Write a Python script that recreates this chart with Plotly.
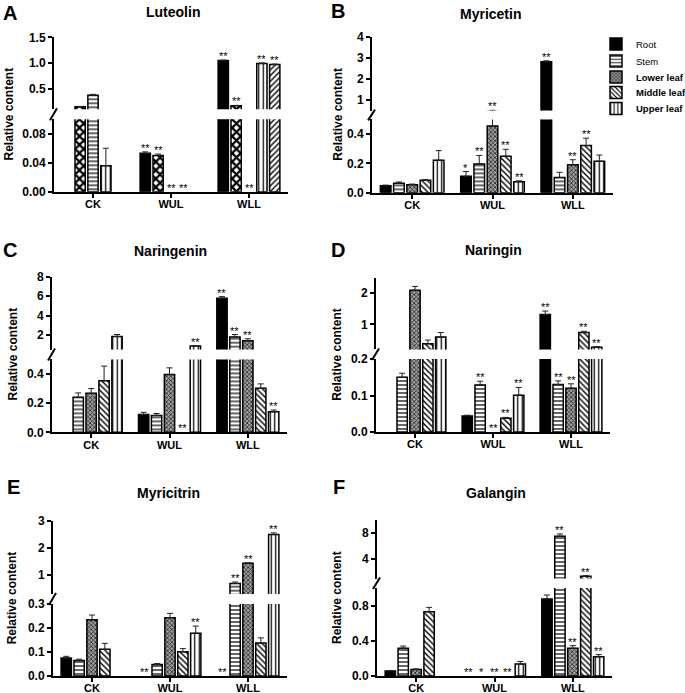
import plotly.graph_objects as go

W, H = 685, 693

categories = ["CK", "WUL", "WLL"]
legend_names = ["Root", "Stem", "<b>Lower leaf</b>", "<b>Middle leaf</b>", "<b>Upper leaf</b>"]

# ---------------- data (rows = CK, WUL, WLL ; columns = bars as drawn) ----------------
# A  Luteolin  (bars drawn: black, coarse check, horizontal, vertical, diagonal)
luteolin_mean = [[0, 0.15, 0.375, 0.036, 0],
                 [0.053, 0.050, 0, 0, 0],
                 [1.05, 0.17, 0, 0.99, 0.97]]
luteolin_err = [[0, 0.006, 0.015, 0.024, 0],
                [0.002, 0.002, 0, 0, 0],
                [0.006, 0.006, 0, 0.012, 0.01]]
luteolin_sig = [["", "", "", "", ""],
                ["**", "**", "**", "**", ""],
                ["**", "**", "**", "**", "**"]]

# B  Myricetin (Root, Stem, Lower leaf, Middle leaf, Upper leaf)
myricetin_mean = [[0.048, 0.065, 0.055, 0.085, 0.222],
                  [0.112, 0.196, 0.455, 0.248, 0.075],
                  [2.81, 0.104, 0.19, 0.322, 0.215]]
myricetin_err = [[0.004, 0.008, 0.004, 0.004, 0.065],
                 [0.032, 0.058, 0.055, 0.048, 0.006],
                 [0.05, 0.035, 0.035, 0.05, 0.042]]
myricetin_sig = [["", "", "", "", ""],
                 ["*", "**", "**", "**", "**"],
                 ["**", "", "**", "**", ""]]

# C  Naringenin
naringenin_mean = [[0, 0.24, 0.267, 0.354, 1.85],
                   [0.122, 0.116, 0.397, 0, 0.87],
                   [5.78, 1.8, 1.4, 0.302, 0.141]]
naringenin_err = [[0, 0.03, 0.033, 0.1, 0.2],
                  [0.015, 0.013, 0.045, 0, 0.05],
                  [0.17, 0.25, 0.22, 0.03, 0.012]]
naringenin_sig = [["", "", "", "", ""],
                  ["", "", "", "**", "**"],
                  ["**", "**", "**", "", "**"]]

# D  Naringin
naringin_mean = [[0, 0.15, 2.1, 0.38, 0.6],
                 [0.044, 0.129, 0, 0.038, 0.101],
                 [1.32, 0.13, 0.12, 0.74, 0.27]]
naringin_err = [[0, 0.011, 0.12, 0.12, 0.14],
                [0.002, 0.01, 0, 0.002, 0.021],
                [0.11, 0.01, 0.012, 0.04, 0.02]]
naringin_sig = [["", "", "", "", ""],
                ["", "**", "**", "**", "**"],
                ["**", "**", "**", "**", "**"]]

# E  Myricitrin
myricitrin_mean = [[0.075, 0.065, 0.234, 0.111, 0],
                   [0, 0.048, 0.243, 0.101, 0.178],
                   [0, 0.69, 1.43, 0.137, 2.49]]
myricitrin_err = [[0.007, 0.005, 0.02, 0.025, 0],
                  [0, 0.004, 0.018, 0.013, 0.03],
                  [0, 0.05, 0.02, 0.022, 0.06]]
myricitrin_sig = [["", "", "", "", ""],
                  ["**", "", "", "", "**"],
                  ["**", "**", "**", "", "**"]]

# F  Galangin
galangin_mean = [[0.057, 0.315, 0.075, 0.73, 0],
                 [0, 0, 0, 0, 0.135],
                 [0.875, 7.5, 0.315, 1.33, 0.218]]
galangin_err = [[0.005, 0.025, 0.006, 0.05, 0],
                [0, 0, 0, 0, 0.03],
                [0.045, 0.35, 0.03, 0.1, 0.025]]
galangin_sig = [["", "", "", "", ""],
                ["**", "*", "**", "**", ""],
                ["", "**", "**", "**", "**"]]

# tick labels
A_up_ticks, A_lo_ticks = [0.5, 1.0, 1.5], [0, 0.04, 0.08]
A_up_text, A_lo_text = ["0.5", "1.0", "1.5"], ["0.00", "0.04", "0.08"]
B_up_ticks, B_lo_ticks = [1, 2, 3, 4], [0, 0.2, 0.4]
B_up_text, B_lo_text = ["1", "2", "3", "4"], ["0.0", "0.2", "0.4"]
C_up_ticks, C_lo_ticks = [2, 4, 6, 8], [0, 0.2, 0.4]
C_up_text, C_lo_text = ["2", "4", "6", "8"], ["0.0", "0.2", "0.4"]
D_up_ticks, D_lo_ticks = [1, 2], [0, 0.1, 0.2]
D_up_text, D_lo_text = ["1", "2"], ["0.0", "0.1", "0.2"]
E_up_ticks, E_lo_ticks = [1, 2, 3], [0, 0.1, 0.2, 0.3]
E_up_text, E_lo_text = ["1", "2", "3"], ["0.0", "0.1", "0.2", "0.3"]
F_up_ticks, F_lo_ticks = [4, 8], [0, 0.4, 0.8]
F_up_text, F_lo_text = ["4", "8"], ["0.0", "0.4", "0.8"]

# ---------------- styles ----------------
STYLE = {
    "black": dict(bg="black", shape="", fg="black", size=8, sol=0.3),
    "hline": dict(bg="white", shape="-", fg="black", size=4, sol=0.3),
    "fine": dict(bg="#a0a0a0", shape="x", fg="#222222", size=3, sol=0.45),
    "diag": dict(bg="white", shape="\\", fg="black", size=4, sol=0.35),
    "diagA": dict(bg="white", shape="/", fg="black", size=4, sol=0.35),
    "vline": dict(bg="white", shape="|", fg="black", size=4.5, sol=0.28),
    "coarse": dict(bg="white", shape="x", fg="black", size=6, sol=0.6),
}
STD = ["black", "hline", "fine", "diag", "vline"]
LEGEND_ROWS = [44, 61, 77, 92.5, 108.5]
LEGEND_X = 596

panels = [
    dict(letter="A", title="Luteolin", mean=luteolin_mean, err=luteolin_err, sig=luteolin_sig,
         styles=["black", "coarse", "hline", "vline", "diagA"],
         x0=54, x1=288, up=(37.3, 109.3), lo=(119.3, 191.7), up_range=(0.1, 1.5), lo_range=(0, 0.1),
         ut=(A_up_ticks, A_up_text), lt=(A_lo_ticks, A_lo_text), letter_pos=(10, 13), title_pos=(173, 12), yt_x=9),
    dict(letter="B", title="Myricetin", mean=myricetin_mean, err=myricetin_err, sig=myricetin_sig, styles=STD,
         x0=372, x1=613, up=(36.7, 110.6), lo=(119.4, 192.7), up_range=(0.5, 4), lo_range=(0, 0.5),
         ut=(B_up_ticks, B_up_text), lt=(B_lo_ticks, B_lo_text), letter_pos=(338, 11), title_pos=(491, 14), yt_x=338),
    dict(letter="C", title="Naringenin", mean=naringenin_mean, err=naringenin_err, sig=naringenin_sig, styles=STD,
         x0=52, x1=287, up=(276.7, 349.6), lo=(359.4, 432.3), up_range=(0.5, 8), lo_range=(0, 0.5),
         ut=(C_up_ticks, C_up_text), lt=(C_lo_ticks, C_lo_text), letter_pos=(10, 250), title_pos=(170, 251), yt_x=12),
    dict(letter="D", title="Naringin", mean=naringin_mean, err=naringin_err, sig=naringin_sig, styles=STD,
         x0=376, x1=610, up=(277.7, 349.4), lo=(359, 432), up_range=(0.2, 2.5), lo_range=(0, 0.2),
         ut=(D_up_ticks, D_up_text), lt=(D_lo_ticks, D_lo_text), letter_pos=(338, 250), title_pos=(493, 250), yt_x=337),
    dict(letter="E", title="Myricitrin", mean=myricitrin_mean, err=myricitrin_err, sig=myricitrin_sig, styles=STD,
         x0=53, x1=287, up=(520.7, 594), lo=(604, 676), up_range=(0.3, 3), lo_range=(0, 0.3),
         ut=(E_up_ticks, E_up_text), lt=(E_lo_ticks, E_lo_text), letter_pos=(13, 487), title_pos=(168, 493), yt_x=12),
    dict(letter="F", title="Galangin", mean=galangin_mean, err=galangin_err, sig=galangin_sig, styles=STD,
         x0=377, x1=612, up=(520, 578.5), lo=(588, 676), up_range=(1, 10), lo_range=(0, 1),
         ut=(F_up_ticks, F_up_text), lt=(F_lo_ticks, F_lo_text), letter_pos=(339, 487), title_pos=(496, 493), yt_x=337),
]

BARGAP, BARGROUPGAP = 0.175, 0.2
FONT = "Liberation Sans, Arial, sans-serif"


def fx(px):
    return px / W


def fy(py):
    return 1 - py / H


def legend_key(s):
    return "legend" if s == 0 else f"legend{s + 1}"


fig = go.Figure()
layout = {}
annotations = []
shapes = []

for p, P in enumerate(panels):
    ilo, iup = 2 * p + 1, 2 * p + 2
    for seg, idx in (("lo", ilo), ("up", iup)):
        xr = "x" if idx == 1 else f"x{idx}"
        yr = "y" if idx == 1 else f"y{idx}"
        for s in range(5):
            st = STYLE[P["styles"][s]]
            ys, es = [], []
            for c in range(3):
                m, e = P["mean"][c][s], P["err"][c][s]
                keep = m != 0 and (seg == "lo" or m + e > P["up_range"][0])
                ys.append(m if keep else None)
                es.append(e if (keep and e != 0) else None)
            show = (P["letter"] == "B" and seg == "lo")
            fig.add_trace(go.Bar(
                x=[0, 1, 2], y=ys, xaxis=xr, yaxis=yr,
                name=legend_names[s], showlegend=show, legend=legend_key(s),
                marker=dict(color=st["bg"], line=dict(color="black", width=1.5),
                            pattern=dict(shape=st["shape"], fgcolor=st["fg"], bgcolor=st["bg"],
                                         size=st["size"], solidity=st["sol"], fillmode="replace")),
                error_y=dict(type="data", symmetric=False, array=es, arrayminus=[0, 0, 0],
                             color="#222", thickness=1, width=3),
                hoverinfo="skip",
            ))
    # axes
    xdom = [fx(P["x0"]), fx(P["x1"])]
    kx = lambda i: "xaxis" if i == 1 else f"xaxis{i}"
    ky = lambda i: "yaxis" if i == 1 else f"yaxis{i}"
    layout[kx(ilo)] = dict(domain=xdom, range=[-0.5, 2.5], anchor="y" if ilo == 1 else f"y{ilo}",
                           showline=True, linewidth=2, linecolor="black", ticks="outside", ticklen=4,
                           tickwidth=2, tickcolor="black", tickvals=[0, 1, 2], ticktext=categories,
                           ticklabelstandoff=-3,
                           tickfont=dict(family=FONT, size=11, color="black", weight="bold"),
                           showgrid=False, zeroline=False, fixedrange=True, automargin=False)
    layout[kx(iup)] = dict(domain=xdom, range=[-0.5, 2.5], anchor=f"y{iup}", visible=False,
                           showgrid=False, zeroline=False, fixedrange=True)
    layout[ky(ilo)] = dict(domain=[fy(P["lo"][1]), fy(P["lo"][0])], range=list(P["lo_range"]),
                           anchor="x" if ilo == 1 else f"x{ilo}", showline=True, linewidth=2,
                           linecolor="black", ticks="outside", ticklen=4, tickwidth=1.5, tickcolor="black",
                           tickvals=P["lt"][0], ticktext=P["lt"][1],
                           tickfont=dict(family=FONT, size=12, color="black", weight="bold"),
                           showgrid=False, zeroline=False, fixedrange=True, automargin=False)
    layout[ky(iup)] = dict(domain=[fy(P["up"][1]), fy(P["up"][0])], range=list(P["up_range"]),
                           anchor=f"x{iup}", showline=True, linewidth=2,
                           linecolor="black", ticks="outside", ticklen=4, tickwidth=1.5, tickcolor="black",
                           tickvals=P["ut"][0], ticktext=P["ut"][1],
                           tickfont=dict(family=FONT, size=12, color="black", weight="bold"),
                           showgrid=False, zeroline=False, fixedrange=True, automargin=False)
    # break mark
    shapes.append(dict(type="line", xref="paper", yref="paper",
                       x0=fx(P["x0"] - 4), y0=fy(P["lo"][0] + 1),
                       x1=fx(P["x0"] + 3), y1=fy(P["up"][1] - 1),
                       line=dict(color="black", width=2)))
    # panel letter, title, y title
    annotations.append(dict(text=f"<b>{P['letter']}</b>", xref="paper", yref="paper",
                            x=fx(P["letter_pos"][0]), y=fy(P["letter_pos"][1]), showarrow=False,
                            xanchor="center", yanchor="middle",
                            font=dict(family=FONT, size=20, color="black")))
    annotations.append(dict(text=f"<b>{P['title']}</b>", xref="paper", yref="paper",
                            x=fx(P["title_pos"][0]), y=fy(P["title_pos"][1]), showarrow=False,
                            xanchor="center", yanchor="middle",
                            font=dict(family=FONT, size=14, color="black")))
    annotations.append(dict(text="<b>Relative content</b>", xref="paper", yref="paper",
                            x=fx(P["yt_x"]), y=fy((P["up"][0] + P["lo"][1]) / 2), showarrow=False,
                            textangle=-90, xanchor="center", yanchor="middle",
                            font=dict(family=FONT, size=12, color="black")))
    # significance marks
    w = 1 - BARGAP
    for c in range(3):
        for s in range(5):
            sg = P["sig"][c][s]
            if not sg:
                continue
            top = P["mean"][c][s] + P["err"][c][s]
            xpos = c - w / 2 + (s + 0.5) * w / 5
            idx = iup if top > P["lo_range"][1] else ilo
            annotations.append(dict(text=sg, xref="x" if idx == 1 else f"x{idx}",
                                    yref="y" if idx == 1 else f"y{idx}",
                                    x=xpos, y=top, showarrow=False, xanchor="center", yanchor="middle",
                                    yshift=4, font=dict(family=FONT, size=11, color="black")))

for s in range(5):
    layout[legend_key(s)] = dict(x=fx(LEGEND_X), y=fy(LEGEND_ROWS[s]), xanchor="left", yanchor="middle",
                                 bgcolor="rgba(0,0,0,0)", borderwidth=0,
                                 font=dict(family=FONT, size=9.5, color="black"), itemwidth=30)

fig.update_layout(**layout)
fig.update_layout(
    width=W, height=H, autosize=False,
    margin=dict(l=0, r=0, t=0, b=0, autoexpand=False),
    paper_bgcolor="white", plot_bgcolor="white",
    barmode="group", bargap=BARGAP, bargroupgap=BARGROUPGAP,
    annotations=annotations, shapes=shapes,
    showlegend=True,
)

# remove the browser's default 8 px page margin so the figure fills the window exactly
fig.write_html("out.html", config={"displayModeBar": False},
               post_script="document.body.style.margin='0';document.body.style.overflow='hidden';")
